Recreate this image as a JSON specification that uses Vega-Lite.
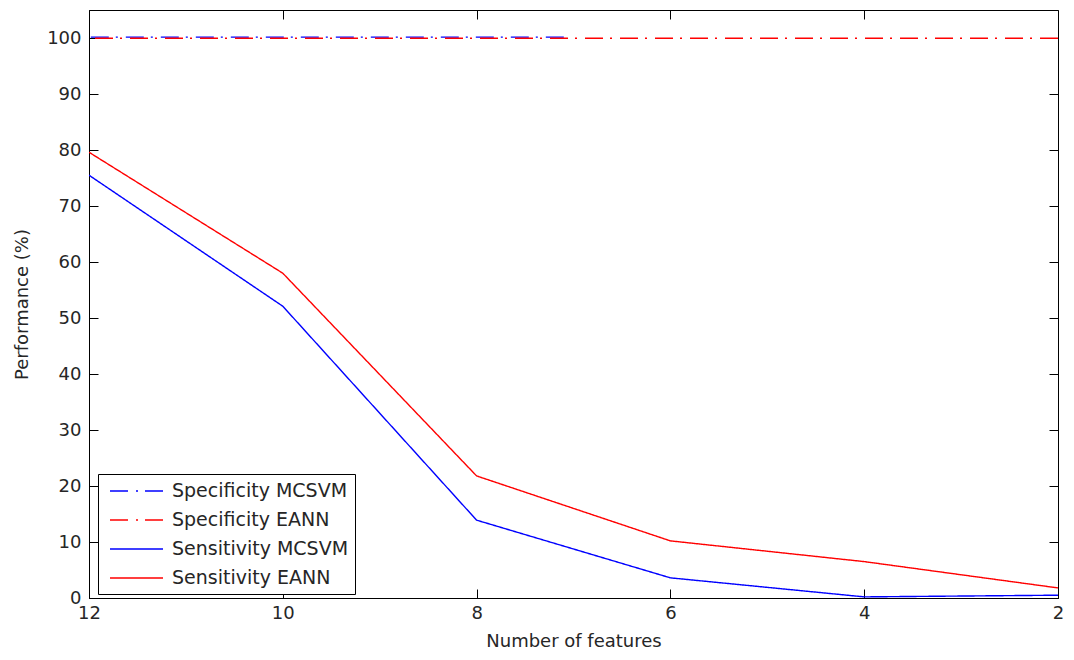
{
  "$schema": "https://vega.github.io/schema/vega-lite/v6.json",
  "width": 969,
  "height": 588,
  "autosize": {"type": "none"},
  "padding": {"left": 89, "top": 10, "right": 16, "bottom": 62},
  "background": "white",
  "config": {
    "view": {"stroke": "black", "strokeWidth": 1},
    "font": "DejaVu Sans",
    "axis": {
      "grid": false,
      "domainColor": "black",
      "tickColor": "black",
      "labelColor": "#262626",
      "titleColor": "#262626",
      "labelFont": "DejaVu Sans",
      "titleFont": "DejaVu Sans",
      "labelFontSize": 18,
      "titleFontSize": 18,
      "titleFontWeight": "normal",
      "tickSize": -9,
      "tickWidth": 1
    },
    "legend": {
      "title": null,
      "orient": "none",
      "legendX": 9,
      "legendY": 464,
      "padding": 6,
      "strokeColor": "black",
      "fillColor": "white",
      "symbolType": "M-1,0H4.3",
      "symbolSize": 400,
      "symbolOffset": 5,
      "symbolStrokeWidth": 1.5,
      "labelFont": "DejaVu Sans",
      "labelFontSize": 19,
      "labelColor": "#262626",
      "rowPadding": 8,
      "labelOffset": 41,
      "labelLimit": 300
    }
  },
  "data": {
    "values": [
      {"series": "Specificity MCSVM", "x": 12, "y": 100.15},
      {"series": "Specificity MCSVM", "x": 10, "y": 100.15},
      {"series": "Specificity MCSVM", "x": 8, "y": 100.15},
      {"series": "Specificity MCSVM", "x": 7.1, "y": 100.15},
      {"series": "Specificity EANN", "x": 12, "y": 99.95},
      {"series": "Specificity EANN", "x": 10, "y": 99.95},
      {"series": "Specificity EANN", "x": 8, "y": 99.95},
      {"series": "Specificity EANN", "x": 6, "y": 99.95},
      {"series": "Specificity EANN", "x": 4, "y": 99.95},
      {"series": "Specificity EANN", "x": 2, "y": 99.95},
      {"series": "Sensitivity MCSVM", "x": 12, "y": 75.5},
      {"series": "Sensitivity MCSVM", "x": 10, "y": 52.1},
      {"series": "Sensitivity MCSVM", "x": 8, "y": 13.9},
      {"series": "Sensitivity MCSVM", "x": 6, "y": 3.6},
      {"series": "Sensitivity MCSVM", "x": 4, "y": 0.2},
      {"series": "Sensitivity MCSVM", "x": 2, "y": 0.5},
      {"series": "Sensitivity EANN", "x": 12, "y": 79.6},
      {"series": "Sensitivity EANN", "x": 10, "y": 58.0},
      {"series": "Sensitivity EANN", "x": 8, "y": 21.8},
      {"series": "Sensitivity EANN", "x": 6, "y": 10.2},
      {"series": "Sensitivity EANN", "x": 4, "y": 6.5},
      {"series": "Sensitivity EANN", "x": 2, "y": 1.8}
    ]
  },
  "layer": [
    {
      "mark": {"type": "line", "strokeWidth": 1.4, "clip": true},
      "encoding": {
        "x": {
          "field": "x", "type": "quantitative",
          "scale": {"domain": [2, 12], "reverse": true, "nice": false, "zero": false},
          "axis": {"orient": "bottom", "values": [2, 4, 6, 8, 10, 12], "title": "Number of features", "labelPadding": 15, "titlePadding": 10, "labelFlush": false}
        },
        "y": {
          "field": "y", "type": "quantitative",
          "scale": {"domain": [0, 105], "nice": false},
          "axis": {"orient": "left", "values": [0, 10, 20, 30, 40, 50, 60, 70, 80, 90, 100], "title": "Performance (%)", "labelPadding": 17, "titlePadding": 15}
        },
        "color": {
          "field": "series", "type": "nominal",
          "scale": {"domain": ["Specificity MCSVM", "Specificity EANN", "Sensitivity MCSVM", "Sensitivity EANN"], "range": ["#0000ff", "#ff0000", "#0000ff", "#ff0000"]}
        },
        "strokeDash": {
          "field": "series", "type": "nominal",
          "scale": {"domain": ["Specificity MCSVM", "Specificity EANN", "Sensitivity MCSVM", "Sensitivity EANN"], "range": [[18, 8, 2, 7], [18, 8, 2, 7], [1, 0], [1, 0]]}
        },
        "order": {"field": "x", "type": "quantitative"}
      }
    },
    {
      "mark": {"type": "line", "opacity": 0},
      "encoding": {
        "x": {"field": "x", "type": "quantitative", "axis": {"orient": "top", "values": [2, 4, 6, 8, 10, 12], "labels": false, "title": null, "domain": false}},
        "y": {"field": "y", "type": "quantitative", "axis": {"orient": "right", "values": [0, 10, 20, 30, 40, 50, 60, 70, 80, 90, 100], "labels": false, "title": null, "domain": false}}
      }
    }
  ],
  "resolve": {"axis": {"x": "independent", "y": "independent"}}
}
